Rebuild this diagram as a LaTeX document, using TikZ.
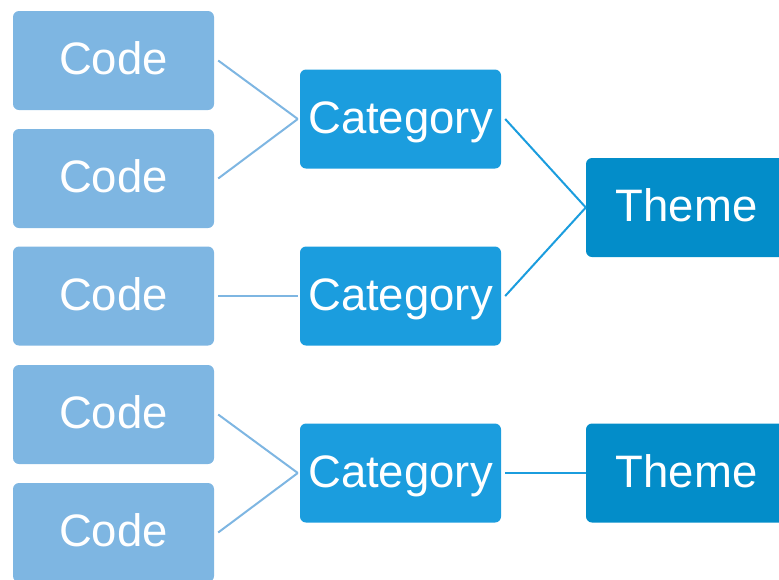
\documentclass[tikz,border=0pt]{standalone}
\usepackage{fontspec}
\setmainfont{Liberation Sans}
\usetikzlibrary{positioning,calc}

\definecolor{codeblue}{HTML}{7EB6E2}
\definecolor{catblue}{HTML}{1B9DDE}
\definecolor{themeblue}{HTML}{038DC9}

\tikzset{
	box/.style={rounded corners=6pt, minimum width=201pt, minimum height=99pt,
		inner sep=0pt, text=white, text height=32pt, text depth=4pt,
		font=\fontsize{45.5}{50}\selectfont},
	codebox/.style={box, fill=codeblue},
	catbox/.style={box, fill=catblue},
	themebox/.style={box, fill=themeblue},
	codeline/.style={draw=codeblue, line width=2pt},
	catline/.style={draw=catblue, line width=2pt}
}

\begin{document}
\begin{tikzpicture}[x=1pt,y=-1pt]
		\useasboundingbox (0,0) rectangle (779,579);
		\clip (0,0) rectangle (779,579);
		% codes
		\node[codebox] (c1) at (113.5,60.5) {Code};
		\node[codebox] (c2) at (113.5,178.5) {Code};
		\node[codebox] (c3) at (113.5,296) {Code};
		\node[codebox] (c4) at (113.5,414.5) {Code};
		\node[codebox] (c5) at (113.5,532.5) {Code};
		% categories
		\node[catbox] (k1) at (400.5,119) {Category};
		\node[catbox] (k2) at (400.5,296) {Category};
		\node[catbox] (k3) at (400.5,473) {Category};
		% themes
		\node[themebox] (t1) at (686.5,207.5) {Theme};
		\node[themebox] (t2) at (686.5,473) {Theme};
		% code -> category
		\draw[codeline] ([xshift=4pt]c1.east) -- ([xshift=-2pt]k1.west);
		\draw[codeline] ([xshift=4pt]c2.east) -- ([xshift=-2pt]k1.west);
		\draw[codeline] ([xshift=4pt]c3.east) -- ([xshift=-2pt]k2.west);
		\draw[codeline] ([xshift=4pt]c4.east) -- ([xshift=-2pt]k3.west);
		\draw[codeline] ([xshift=4pt]c5.east) -- ([xshift=-2pt]k3.west);
		% category -> theme
		\draw[catline] ([xshift=4pt]k1.east) -- (t1.west);
		\draw[catline] ([xshift=4pt]k2.east) -- (t1.west);
		\draw[catline] ([xshift=4pt]k3.east) -- (t2.west);
	\end{tikzpicture}
\end{document}
